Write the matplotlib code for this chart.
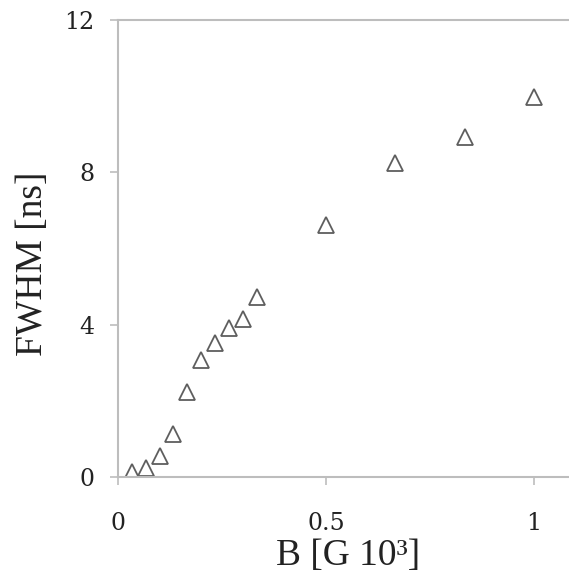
import matplotlib
matplotlib.use("Agg")
import matplotlib.pyplot as plt

# Data
B_values = [0.033, 0.067, 0.100, 0.133, 0.167, 0.200, 0.233, 0.267, 0.300, 0.333,
            0.500, 0.667, 0.833, 1.000]
fwhm_values = [0.12, 0.24, 0.54, 1.13, 2.23, 3.07, 3.53, 3.91, 4.14, 4.73,
               6.62, 8.24, 8.92, 9.97]
x_ticks = [0, 0.5, 1]
x_tick_labels = ["0", "0.5", "1"]
y_ticks = [0, 4, 8, 12]
y_tick_labels = ["0", "4", "8", "12"]

W, H = 569, 578
fig = plt.figure(figsize=(W / 100, H / 100), dpi=100)
ax = fig.add_axes([118 / W, 1 - 477 / H, 1 - 118 / W, (477 - 20) / H])

ax.plot(B_values, fwhm_values, linestyle="none", marker="^", markersize=11.5,
        markerfacecolor="white", markeredgecolor="#5e5e5e", markeredgewidth=1.3)

ax.set_xlim(0, (W - 118) / 416)
ax.set_ylim(0, 12)
ax.set_xticks(x_ticks)
ax.set_xticklabels(x_tick_labels)
ax.set_yticks(y_ticks)
ax.set_yticklabels(y_tick_labels)

spine_color = "#bdbdbd"
for s in ["left", "bottom", "top"]:
    ax.spines[s].set_color(spine_color)
    ax.spines[s].set_linewidth(1.5)
ax.spines["right"].set_visible(False)

ax.tick_params(axis="both", colors=spine_color, width=1.2, length=6,
               labelcolor="#222222", labelsize=17)
ax.tick_params(axis="x", pad=19)
ax.tick_params(axis="y", pad=11)
for lab in ax.get_xticklabels() + ax.get_yticklabels():
    lab.set_fontfamily("DejaVu Serif")

ax.set_xlabel("B [G 10³]", fontsize=27, family="Liberation Serif", color="#222222")
ax.set_ylabel("FWHM [ns]", fontsize=27, family="Liberation Serif", color="#222222")
# place labels as in the reference (pixel positions converted to axes coords)
ax_left, ax_bottom = 118, 477
ax_w, ax_h = W - 118, 477 - 20
ax.xaxis.set_label_coords((348 - ax_left) / ax_w, -(565 - ax_bottom) / ax_h)
ax.xaxis.label.set_va("baseline")
ax.yaxis.set_label_coords(-(118 - 33) / ax_w, (ax_bottom - 264) / ax_h)
ax.yaxis.label.set_va("center")

fig.savefig("out.png", dpi=100)
